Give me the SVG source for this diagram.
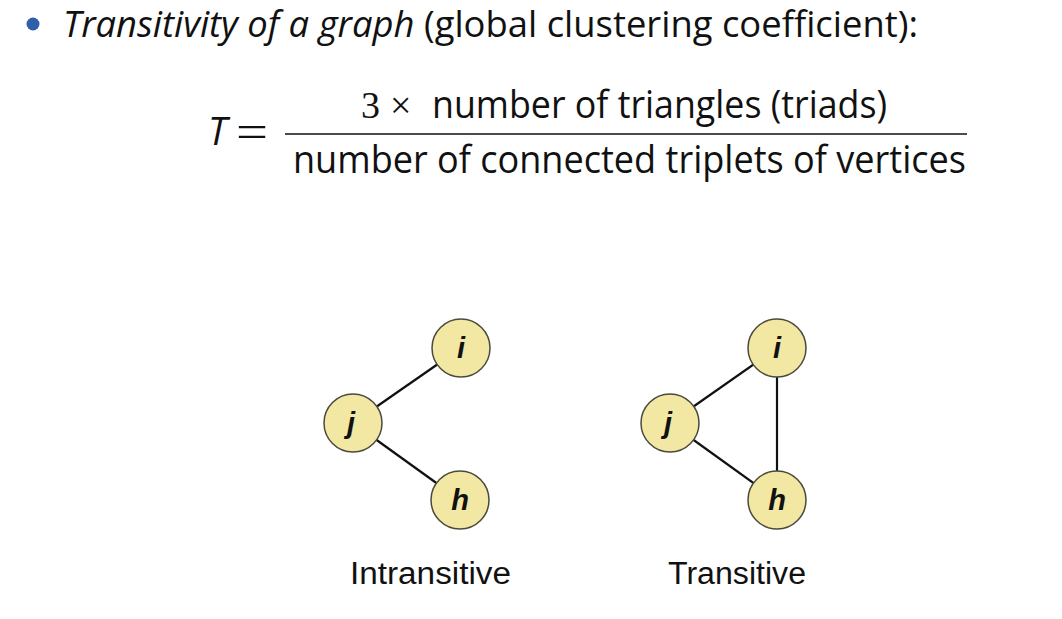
<svg xmlns="http://www.w3.org/2000/svg" width="1062" height="619" viewBox="0 0 1062 619">
<style>
.body{font-family:"Open Sans","Liberation Sans",sans-serif;fill:#111}
.lab{font-family:"Liberation Sans",Arial,sans-serif;font-size:31px;fill:#111}
.nd{fill:#f3e8a3;stroke:#4a4a3e;stroke-width:1.5}
.nt{font-family:"Liberation Sans",Arial,sans-serif;font-size:29px;font-weight:bold;font-style:italic;fill:#111;text-anchor:middle}
.edge{stroke:#111;stroke-width:2.2;fill:none}
</style>
<rect width="1062" height="619" fill="#fff"/>
<g id="title">
<circle cx="33" cy="24" r="6.5" fill="#2e5fa8"/>
<text class="body" x="63" y="37" font-size="36" textLength="855" lengthAdjust="spacingAndGlyphs"><tspan font-style="italic">Transitivity of a graph</tspan> (global clustering coefficient):</text>
</g>
<g id="formula">
<text class="body" x="208" y="145" font-size="38" font-style="italic">T</text>
<text x="236" y="147" font-family="'Liberation Serif',serif" font-size="46" fill="#111" textLength="32" lengthAdjust="spacingAndGlyphs">=</text>
<text x="361" y="118" font-family="'Liberation Serif',serif" font-size="38" fill="#111">3</text>
<text x="390" y="118" font-family="'Liberation Serif',serif" font-size="38" fill="#111">×</text>
<text class="body" x="432" y="118" font-size="38" textLength="455" lengthAdjust="spacingAndGlyphs">number of triangles (triads)</text>
<line x1="285" y1="134" x2="967" y2="134" stroke="#111" stroke-width="1.5"/>
<text class="body" x="293" y="173" font-size="38" textLength="673" lengthAdjust="spacingAndGlyphs">number of connected triplets of vertices</text>
</g>
<g id="connectors">
<line class="edge" x1="353" y1="423" x2="461" y2="348"/>
<line class="edge" x1="353" y1="423" x2="460" y2="500"/>
<line class="edge" x1="670" y1="423" x2="777" y2="348"/>
<line class="edge" x1="670" y1="423" x2="777" y2="500"/>
<line class="edge" x1="777" y1="348" x2="777" y2="500"/>
</g>
<g id="n-i1"><circle class="nd" cx="461" cy="348" r="29"/><text class="nt" x="461" y="358">i</text></g>
<g id="n-j1"><circle class="nd" cx="353" cy="423" r="29"/><text class="nt" x="351" y="433">j</text></g>
<g id="n-h1"><circle class="nd" cx="460" cy="500" r="29"/><text class="nt" x="460" y="510">h</text></g>
<g id="n-i2"><circle class="nd" cx="777" cy="348" r="29"/><text class="nt" x="777" y="358">i</text></g>
<g id="n-j2"><circle class="nd" cx="670" cy="423" r="29"/><text class="nt" x="668" y="433">j</text></g>
<g id="n-h2"><circle class="nd" cx="777" cy="500" r="29"/><text class="nt" x="777" y="510">h</text></g>
<g id="labels">
<text class="lab" x="350" y="584" textLength="161" lengthAdjust="spacingAndGlyphs">Intransitive</text>
<text class="lab" x="668" y="584" textLength="138" lengthAdjust="spacingAndGlyphs">Transitive</text>
</g>
</svg>
